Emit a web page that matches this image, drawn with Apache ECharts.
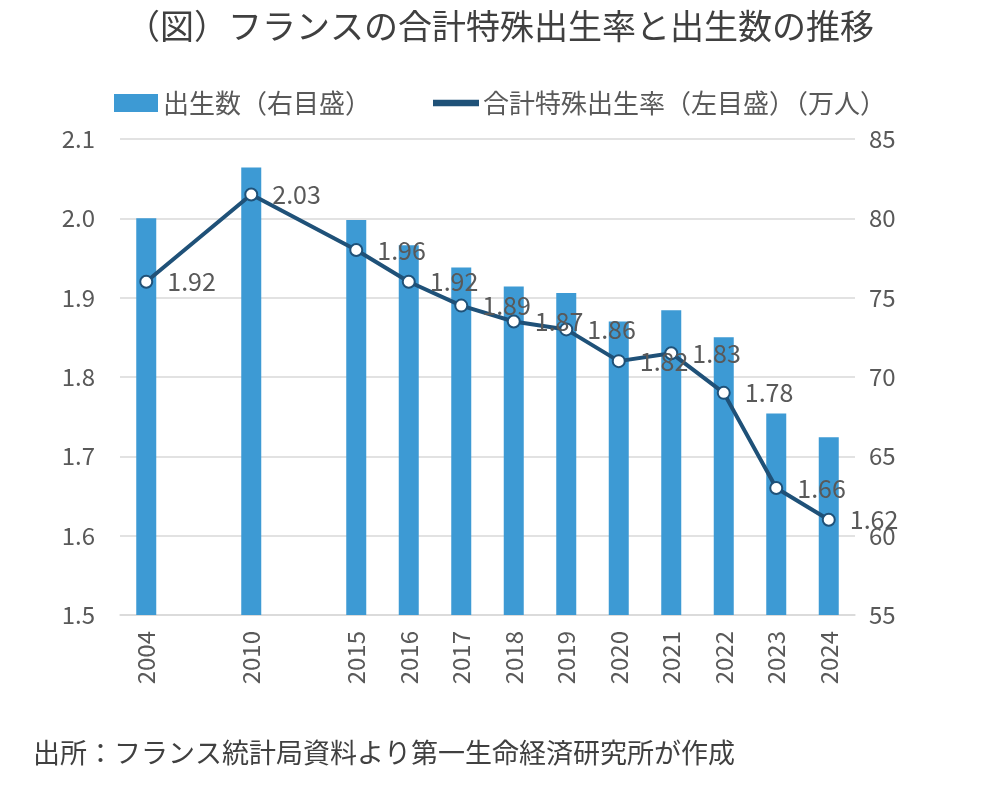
<!DOCTYPE html>
<html>
<head>
<meta charset="utf-8">
<script src="https://cdn.jsdelivr.net/npm/echarts@6/dist/echarts.min.js"></script>
<style>
  html, body { margin: 0; padding: 0; background: #fff; }
  #chart { width: 1000px; height: 789px; }
</style>
</head>
<body>
<div id="chart"></div>
<script>
// Years on the x axis; blanks keep the gaps 2004→2010→2015 as in the source
const YEARS = ['2004', '', '2010', '', '2015', '2016', '2017', '2018', '2019', '2020', '2021', '2022', '2023', '2024'];
// 出生数（万人, right axis）
const BIRTHS = [80.0, null, 83.2, null, 79.9, 78.3, 76.9, 75.7, 75.3, 73.5, 74.2, 72.5, 67.7, 66.2];
// 合計特殊出生率 (left axis)
const TFR = [1.92, null, 2.03, null, 1.96, 1.92, 1.89, 1.87, 1.86, 1.82, 1.83, 1.78, 1.66, 1.62];

const FONT = '"Noto Sans CJK JP", "Noto Sans", sans-serif';
const GREY = '#595959';
const BAR = '#3d9ad4';
const LINE = '#1f5178';

const chart = echarts.init(document.getElementById('chart'));
chart.setOption({
  textStyle: { fontFamily: FONT },
  title: [
    {
      text: '（図）フランスの合計特殊出生率と出生数の推移',
      left: 'center', top: 4,
      textStyle: { fontSize: 34, fontWeight: 'normal', color: '#404040', fontFamily: FONT }
    },
    {
      text: '出所：フランス統計局資料より第一生命経済研究所が作成',
      left: 28, top: 734,
      textStyle: { fontSize: 27, fontWeight: 'normal', color: '#404040', fontFamily: FONT }
    }
  ],
  legend: {
    top: 85, left: 'center',
    itemGap: 62,
    textStyle: { fontSize: 26, color: GREY, fontFamily: FONT },
    data: [
      { name: '出生数（右目盛）', icon: 'rect', itemStyle: { color: BAR } },
      { name: '合計特殊出生率（左目盛）（万人）', icon: 'path://M0,0 L10,0 L10,1 L0,1 Z', itemStyle: { color: LINE } }
    ],
    itemWidth: 44, itemHeight: 18
  },
  grid: { left: 120, right: 145, top: 139, bottom: 174 },
  xAxis: {
    type: 'category',
    data: YEARS,
    axisLine: { lineStyle: { color: '#d9d9d9', width: 1.5 } },
    axisTick: { show: false },
    axisLabel: { interval: 0, rotate: 90, fontSize: 24, color: GREY, margin: 16, fontFamily: FONT }
  },
  yAxis: [
    {
      type: 'value', min: 1.5, max: 2.1, interval: 0.1,
      axisLine: { show: false }, axisTick: { show: false },
      axisLabel: { fontSize: 24, color: GREY, margin: 25, formatter: v => v.toFixed(1), fontFamily: FONT },
      splitLine: { lineStyle: { color: '#d9d9d9', width: 1.5 } }
    },
    {
      type: 'value', min: 55, max: 85, interval: 5,
      axisLine: { show: false }, axisTick: { show: false },
      axisLabel: { fontSize: 24, color: GREY, margin: 14, fontFamily: FONT },
      splitLine: { show: false }
    }
  ],
  series: [
    {
      name: '出生数（右目盛）',
      type: 'bar',
      yAxisIndex: 1,
      data: BIRTHS,
      barWidth: 20,
      itemStyle: { color: BAR }
    },
    {
      name: '合計特殊出生率（左目盛）（万人）',
      type: 'line',
      yAxisIndex: 0,
      data: TFR,
      connectNulls: true,
      lineStyle: { color: LINE, width: 4 },
      symbol: 'circle', symbolSize: 12,
      itemStyle: { color: '#fff', borderColor: LINE, borderWidth: 2 },
      label: {
        show: true, position: 'right', distance: 14,
        fontSize: 25, color: GREY, fontFamily: FONT,
        formatter: p => p.value.toFixed(2)
      },
      z: 3
    }
  ]
});
</script>
</body>
</html>
